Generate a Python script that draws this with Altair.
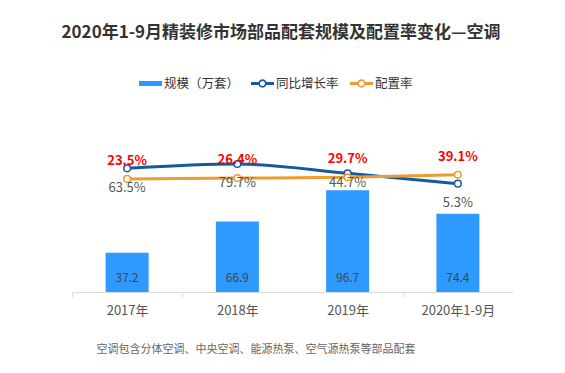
import altair as alt
import pandas as pd

categories = ["2017年", "2018年", "2019年", "2020年1-9月"]
scale_values = [37.2, 66.9, 96.7, 74.4]          # 规模（万套）
growth_rates = [0.635, 0.797, 0.447, 0.053]      # 同比增长率
config_rates = [0.235, 0.264, 0.297, 0.391]      # 配置率
legend_labels = ["规模（万套）", "同比增长率", "配置率"]
title_text = "2020年1-9月精装修市场部品配套规模及配置率变化—空调"
note_text = "空调包含分体空调、中央空调、能源热泵、空气源热泵等部品配套"

df = pd.DataFrame({"year": categories, "scale": scale_values,
                   "growth": growth_rates, "rate": config_rates})
legend_df = pd.DataFrame({"series": legend_labels})

FONT = "Noto Sans CJK SC"
BAR = "#2E9AFE"
BLUE = "#17599F"
ORANGE = "#EE9B2F"

RECT_PATH = "M-1,-0.22L1,-0.22L1,0.22L-1,0.22Z"
LINE_PATH = ("M-1,-0.13L-0.3,-0.13L-0.3,0.13L-1,0.13Z "
             "M0.3,-0.13L1,-0.13L1,0.13L0.3,0.13Z "
             "M-0.36,0A0.36,0.36,0,1,1,0.36,0A0.36,0.36,0,1,1,-0.36,0Z "
             "M-0.22,0A0.22,0.22,0,1,0,0.22,0A0.22,0.22,0,1,0,-0.22,0Z")

hidden_ticks = "datum.value === '%s' || datum.value === '%s'" % (categories[1], categories[3])

x = alt.X(
    "year:N", sort=categories,
    scale=alt.Scale(paddingInner=0, paddingOuter=0),
    axis=alt.Axis(
        title=note_text, titleAnchor="start", titleAlign="left", titleX=24, titleY=57,
        titleBaseline="middle", titleFontSize=11, titleFontWeight="normal",
        titleColor="#666", titleFont=FONT,
        labelFont=FONT, labelFontSize=13, labelColor="#555", labelPadding=7, labelAngle=0,
        domainColor="#dcdcdc", tickColor="#dcdcdc", tickSize=5, tickBand="extent",
        tickOpacity={"condition": {"test": hidden_ticks, "value": 0}, "value": 1},
        grid=False,
    ),
)

bar_scale = alt.Scale(domain=[0, 163.5], nice=False, zero=False)
bars = alt.Chart(df).mark_bar(color=BAR, size=43).encode(
    x=x, y=alt.Y("scale:Q", scale=bar_scale, axis=None))
bar_text = alt.Chart(df).mark_text(font=FONT, fontSize=12, color="#444", dy=-14,
                                   baseline="middle").encode(
    x=x, y=alt.YDatum(0, axis=None),
    text=alt.Text("scale:Q", format=".1f"))
bar_layer = alt.layer(bars, bar_text)

line_scale = alt.Scale(domain=[-4.034, 2.457], nice=False, zero=False)
yg = alt.Y("growth:Q", scale=line_scale, axis=None)
yr = alt.Y("rate:Q", scale=line_scale, axis=None)
base = alt.Chart(df)
growth_line = base.mark_line(color=BLUE, strokeWidth=3, interpolate="monotone").encode(x=x, y=yg)
rate_line = base.mark_line(color=ORANGE, strokeWidth=3, interpolate="monotone").encode(x=x, y=yr)
growth_pts = base.mark_point(filled=True, fill="white", stroke=BLUE, strokeWidth=1.5,
                             size=45, opacity=1).encode(x=x, y=yg)
rate_pts = base.mark_point(filled=True, fill="white", stroke=ORANGE, strokeWidth=1.5,
                           size=45, opacity=1).encode(x=x, y=yr)
rate_text = base.mark_text(font=FONT, fontSize=13, fontWeight="bold", color="#F00",
                           dy=-18, baseline="middle").encode(
    x=x, y=yr, text=alt.Text("rate:Q", format=".1%"))
growth_text = base.transform_filter(alt.datum.year != categories[2]).mark_text(
    font=FONT, fontSize=13, color="#555", dy=19.5, baseline="middle").encode(
    x=x, y=yg, text=alt.Text("growth:Q", format=".1%"))
growth_text_b = base.transform_filter(alt.datum.year == categories[2]).mark_text(
    font=FONT, fontSize=13, color="#555", dy=10, baseline="middle").encode(
    x=x, y=yg, text=alt.Text("growth:Q", format=".1%"))
line_layer = alt.layer(growth_line, rate_line, growth_pts, rate_pts,
                       rate_text, growth_text, growth_text_b)

leg = alt.Legend(orient="none", legendX=67, legendY=-48, direction="horizontal", title=None,
                 labelFont=FONT, labelFontSize=12.5, labelColor="#333", labelOffset=2,
                 columnPadding=11, symbolSize=529, symbolStrokeWidth=0)
carrier = alt.Chart(legend_df).mark_point(filled=True, size=529, clip=True, opacity=1).encode(
    x=alt.value(-300), y=alt.value(-300),
    color=alt.Color("series:N", scale=alt.Scale(domain=legend_labels,
                                                range=[BAR, BLUE, ORANGE]), legend=leg),
    shape=alt.Shape("series:N", scale=alt.Scale(domain=legend_labels,
                                                range=[RECT_PATH, LINE_PATH, LINE_PATH]), legend=leg),
)

chart = alt.layer(bar_layer, line_layer, carrier).resolve_scale(y="independent").properties(
    width=441, height=172,
    autosize=alt.AutoSizeParams(type="none"),
    padding={"left": 64, "top": 112, "right": 44, "bottom": 70},
    background="white",
    title=alt.Title(title_text, font=FONT, fontSize=17, fontWeight="bold", color="#333",
                    anchor="middle", frame="group", dx=-11.5, offset=30),
).configure_view(stroke=None)

chart.save("out.html", embed_options={"renderer": "svg", "actions": False})
